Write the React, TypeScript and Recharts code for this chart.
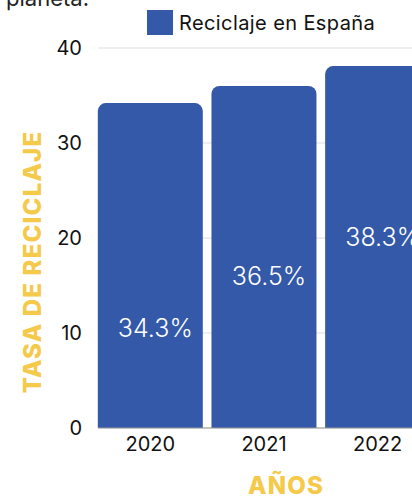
import React from "react";
import {
  ComposedChart,
  Bar,
  Line,
  XAxis,
  YAxis,
  CartesianGrid,
  LabelList,
  Label,
} from "recharts";

// values
const years = ["2020", "2021", "2022"];
const rates = [34.2, 36, 38.1];
const rateLabels = ["34.3%", "36.5%", "38.3%"];
// where each percentage label sits, in axis units
const labelAnchors = [10.5, 16, 20.1];
const yTicks = [0, 10, 20, 30, 40];

const BLUE = "#3359a8";
const YELLOW = "#f5c94a";
const FONT = "Inter, 'Noto Sans', sans-serif";

const data = years.map((year, i) => ({
  year,
  rate: rates[i],
  anchor: labelAnchors[i],
  label: rateLabels[i],
}));

// white percentage text inside the bars
const BarText = (props: { x?: number; y?: number; value?: string }) => {
  const { x, y, value } = props;
  if (x == null || y == null) return null;
  return (
    <text
      x={x + 5}
      y={y}
      textAnchor="middle"
      dominantBaseline="central"
      fill="#fff"
      fontSize={25}
      fontWeight={300}
      fontFamily={FONT}
    >
      {value}
    </text>
  );
};

// rotated y axis title
const YTitle = (props: { viewBox?: { x: number; y: number; width: number; height: number } }) => {
  const vb = props.viewBox;
  if (!vb) return null;
  const cx = vb.x + 32;
  const cy = vb.y + vb.height / 2 + 24;
  return (
    <text
      x={cx}
      y={cy}
      transform={`rotate(-90 ${cx} ${cy})`}
      textAnchor="middle"
      dominantBaseline="central"
      fill={YELLOW}
      fontSize={24}
      fontWeight={800}
      letterSpacing={1.2}
      fontFamily={FONT}
    >
      TASA DE RECICLAJE
    </text>
  );
};

export default function App() {
  return (
    <div
      style={{
        position: "fixed",
        top: 0,
        left: 0,
        width: 412,
        height: 496,
        overflow: "hidden",
        background: "#fff",
        fontFamily: FONT,
      }}
    >
      {/* tail of the title, cut off by the frame */}
      <div
        style={{
          position: "absolute",
          top: -15,
          left: 6,
          fontSize: 22,
          lineHeight: "26px",
          color: "#222",
        }}
      >
        planeta.
      </div>

      {/* legend */}
      <div
        style={{
          position: "absolute",
          top: 10,
          left: 147,
          display: "flex",
          alignItems: "center",
          zIndex: 2,
        }}
      >
        <span style={{ width: 26, height: 25, background: BLUE, display: "inline-block" }} />
        <span style={{ marginLeft: 6, fontSize: 20, letterSpacing: 0.4, color: "#111" }}>
          Reciclaje en España
        </span>
      </div>

      <ComposedChart
        width={440}
        height={496}
        data={data}
        margin={{ top: 48, right: 10, bottom: 0, left: 0 }}
        barCategoryGap={4.3}
      >
        <CartesianGrid vertical={false} stroke="#dddddd" />
        <XAxis
          dataKey="year"
          height={68}
          padding={{ left: -4.5, right: -4.5 }}
          tickLine={false}
          tickSize={0}
          tickMargin={9}
          axisLine={{ stroke: "#999" }}
          tick={{ fontSize: 20, fill: "#111", fontFamily: FONT }}
        >
          <Label
            value="AÑOS"
            position="insideBottom"
            offset={2}
            dx={22}
            fill={YELLOW}
            fontSize={24}
            fontWeight={800}
            letterSpacing={1.2}
            fontFamily={FONT}
          />
        </XAxis>
        <YAxis
          width={98}
          domain={[0, 40]}
          ticks={yTicks}
          tickLine={false}
          axisLine={false}
          tickSize={0}
          tickMargin={16}
          tick={{ fontSize: 20, fill: "#111", fontFamily: FONT }}
        >
          <Label content={<YTitle />} />
        </YAxis>
        <Bar dataKey="rate" fill={BLUE} radius={[8, 8, 0, 0]} isAnimationActive={false} />
        <Line
          dataKey="anchor"
          stroke="none"
          dot={false}
          activeDot={false}
          legendType="none"
          isAnimationActive={false}
        >
          <LabelList dataKey="label" content={<BarText />} />
        </Line>
      </ComposedChart>
    </div>
  );
}
